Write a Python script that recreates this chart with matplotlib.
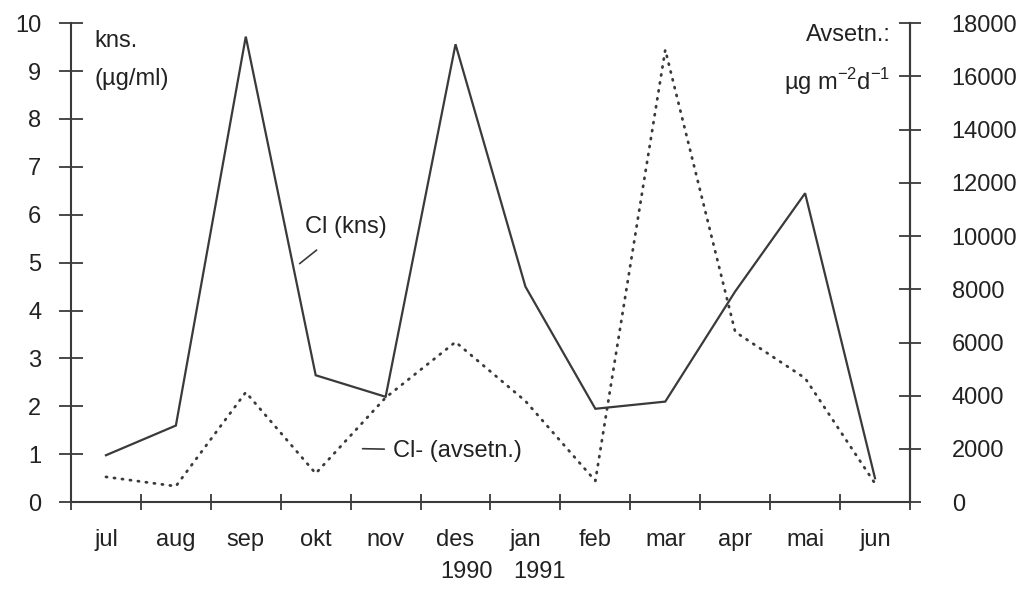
import numpy as np
import matplotlib.pyplot as plt

plt.rcParams['font.family'] = ['Liberation Sans', 'DejaVu Sans']

months = ['jul', 'aug', 'sep', 'okt', 'nov', 'des',
          'jan', 'feb', 'mar', 'apr', 'mai', 'jun']
# Cl concentration, ug/ml (left axis)
cl_kns = [0.98, 1.6, 9.72, 2.65, 2.2, 9.56, 4.5, 1.95, 2.1, 4.4, 6.45, 0.5]
# Cl- deposition, ug m-2 d-1 (right axis)
cl_avsetn = [950, 600, 4130, 1080, 3930, 6020, 3800, 800, 17000, 6400, 4660, 700]

ink = '#3a3a3a'
txt = '#222222'
fs = 17
x = np.arange(len(months)) + 0.5

fig = plt.figure(figsize=(10.35, 5.95), dpi=100)
ax = fig.add_axes([0.0686, 0.156, 0.8106, 0.805])
ax2 = ax.twinx()

ax.plot(x, cl_kns, color=ink, lw=1.6, solid_joinstyle='miter')
ax2.plot(x, cl_avsetn, color=ink, lw=2.0, linestyle=(0, (0.4, 2.5)),
         dash_capstyle='round')

ax.set_xlim(0, 12)
ax.set_ylim(0, 10)
ax2.set_ylim(0, 18000)

for a in (ax, ax2):
    a.spines['top'].set_visible(False)
    for s in a.spines.values():
        s.set_color(ink)
        s.set_linewidth(1.5)
ax2.spines['left'].set_visible(False)
ax2.spines['bottom'].set_visible(False)

ax.set_yticks(range(0, 11))
ax.tick_params(axis='y', direction='inout', length=17, width=1.3,
               colors=ink, labelsize=fs, pad=13, labelcolor=txt)
ax2.set_yticks(range(0, 18001, 2000))
ax2.tick_params(axis='y', direction='inout', length=16, width=1.3,
                colors=ink, labelsize=fs, pad=22, labelcolor=txt)

ax.set_xticks(range(0, 13))
ax.set_xticklabels([])
ax.set_xticks(x, minor=True)
ax.set_xticklabels(months, minor=True)
ax.tick_params(axis='x', which='major', direction='inout', length=11,
               width=1.3, colors=ink)
ax.tick_params(axis='x', which='minor', length=0, pad=19, labelsize=fs,
               labelcolor=txt)

# axis unit labels
ax.text(0.33, 9.62, 'kns.', fontsize=fs, color=txt, va='center', ha='left')
ax.text(0.33, 8.84, '(µg/ml)', fontsize=fs, color=txt, va='center', ha='left')
ax2.text(11.72, 17550, 'Avsetn.:', fontsize=fs, color=txt,
         va='center', ha='right')
ax2.text(11.72, 15800, 'µg m$^{\\mathregular{-2}}$d$^{\\mathregular{-1}}$',
         fontsize=fs, color=txt, va='center', ha='right')

# series annotations
ax.annotate('Cl (kns)', xy=(3.27, 4.98), xytext=(3.93, 5.75),
            fontsize=fs, color=txt, ha='center', va='center',
            arrowprops=dict(arrowstyle='-', color=ink, lw=1.2,
                            shrinkA=11, shrinkB=0))
ax2.annotate('Cl- (avsetn.)', xy=(4.17, 2010), xytext=(4.6, 1940),
             fontsize=fs, color=txt, ha='left', va='center',
             arrowprops=dict(arrowstyle='-', color=ink, lw=1.2,
                             shrinkA=4, shrinkB=0))

# year labels below des / jan
ax.text(x[5] + 0.15, -1.45, '1990', fontsize=fs, color=txt,
        ha='center', va='center')
ax.text(x[6] + 0.2, -1.45, '1991', fontsize=fs, color=txt,
        ha='center', va='center')

fig.savefig('out.png', dpi=100)
